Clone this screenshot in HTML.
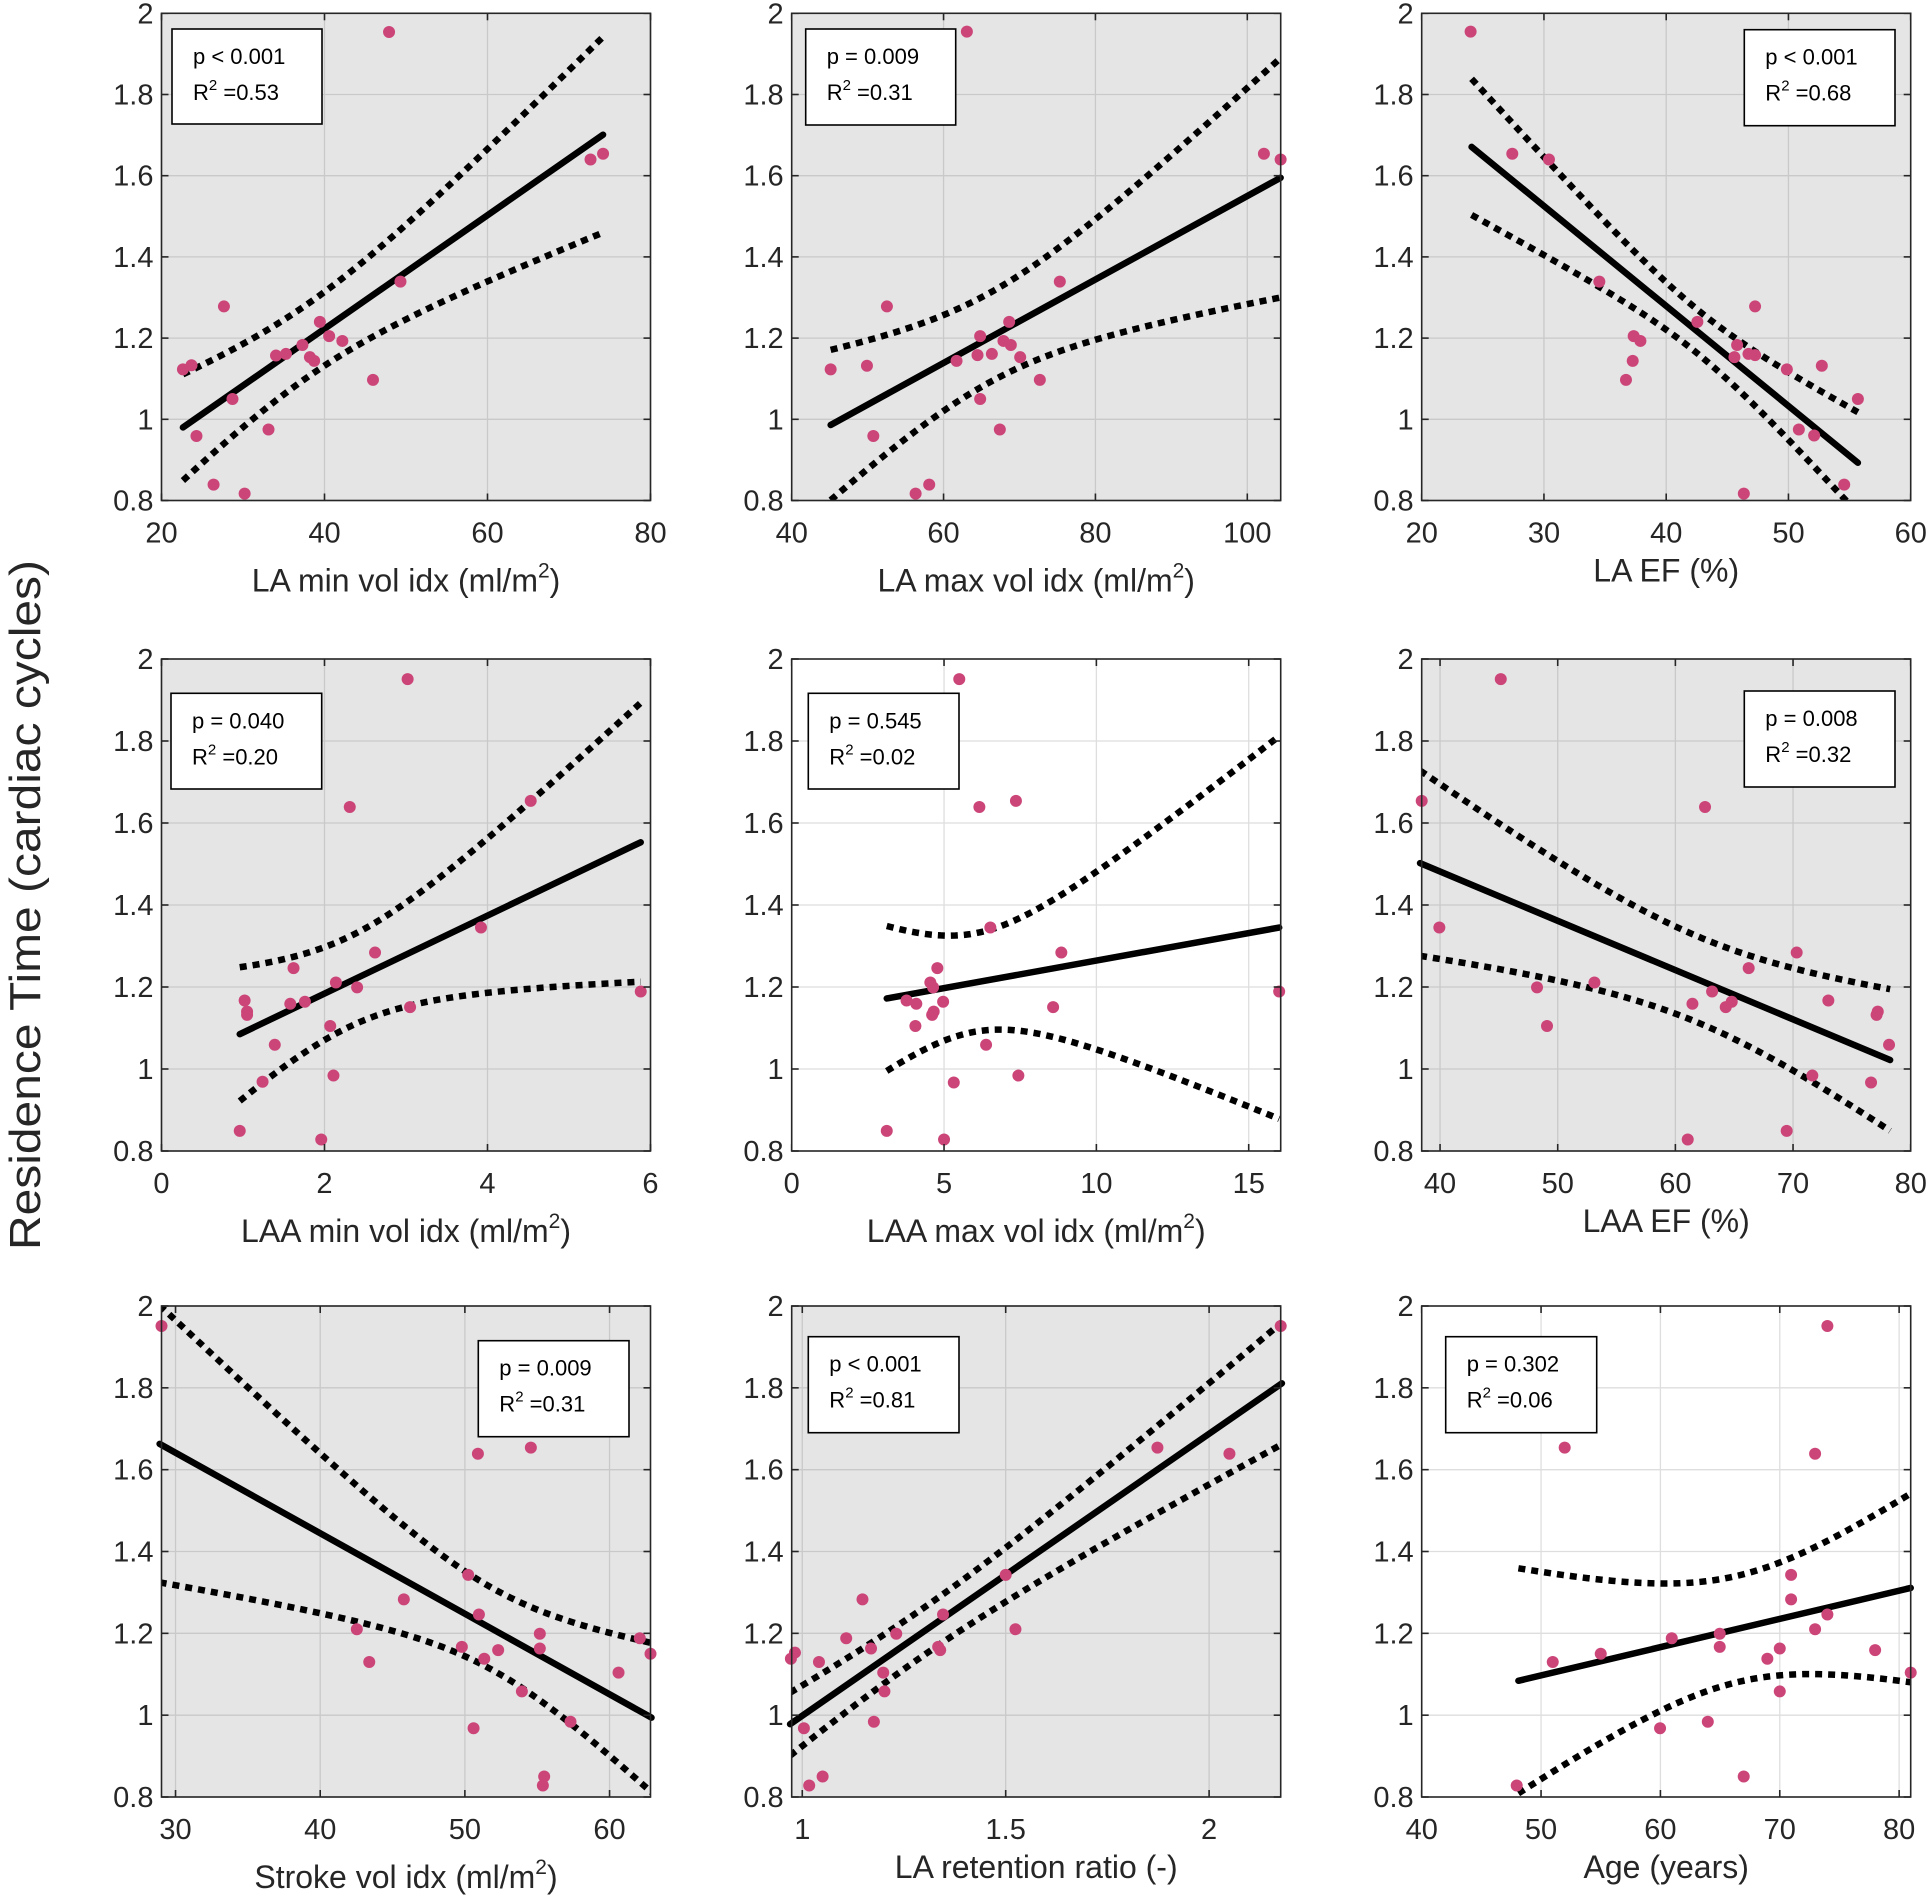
<!DOCTYPE html>
<html><head><meta charset="utf-8">
<style>
html,body{margin:0;padding:0;background:#fff;}
svg{display:block;font-family:"Liberation Sans",Arial,sans-serif;}
</style></head>
<body>
<svg id="fig" width="1930" height="1898" viewBox="0 0 1930 1898" xmlns="http://www.w3.org/2000/svg">
<text transform="translate(40,905) rotate(-90)" text-anchor="middle" font-size="44" fill="#262626" textLength="690" lengthAdjust="spacingAndGlyphs">Residence Time (cardiac cycles)</text>
</svg>
<script>
// ---- data (shared y ticks) ----
const yTicks = [0.8, 1, 1.2, 1.4, 1.6, 1.8, 2];
const yTickLabels = ['0.8', '1', '1.2', '1.4', '1.6', '1.8', '2'];

// Panel 1: LA min vol idx
const laMinX = [22.63,23.68,24.29,26.39,27.66,28.71,30.20,33.13,34.05,35.27,37.29,38.21,38.73,39.43,40.57,42.19,45.95,47.92,49.32,72.64,74.18];
const laMinY = [1.123,1.133,0.959,0.839,1.278,1.050,0.817,0.975,1.157,1.161,1.183,1.153,1.144,1.240,1.205,1.193,1.097,1.954,1.339,1.640,1.654];
const laMinFit = [22.63, 0.980, 74.18, 1.701];
const laMinCI = [38.0, 0.09, 0.00618];
const laMinTicks = [20, 40, 60, 80];

// Panel 2: LA max vol idx
const laMaxX = [63.07,52.54,45.13,49.91,50.75,56.32,58.11,61.71,64.47,64.82,66.36,67.89,68.86,68.64,70.09,72.68,64.82,67.41,75.31,102.19,104.39];
const laMaxY = [1.955,1.278,1.123,1.132,0.959,0.817,0.839,1.144,1.158,1.205,1.161,1.193,1.183,1.240,1.153,1.097,1.050,0.975,1.339,1.654,1.640];
const laMaxFit = [45.13, 0.986, 104.39, 1.595];
const laMaxCI = [66.0, 0.11, 0.00713];
const laMaxTicks = [40, 60, 80, 100];

// Panel 3: LA EF
const laEfX = [24.0,27.41,30.41,34.53,37.34,37.89,37.26,36.71,42.55,45.80,45.58,46.73,47.27,47.27,49.87,52.73,55.68,50.85,52.1,54.56,46.35];
const laEfY = [1.955,1.654,1.640,1.339,1.205,1.193,1.144,1.097,1.240,1.183,1.153,1.161,1.158,1.278,1.123,1.132,1.050,0.975,0.960,0.839,0.817];
const laEfFit = [24.08, 1.671, 55.68, 0.893];
const laEfCI = [42.6, 0.054, 0.00857];
const laEfTicks = [20, 30, 40, 50, 60];

// Panel 4: LAA min vol idx
const laaMinX = [3.02,2.31,4.53,3.92,2.62,1.62,2.14,2.40,1.58,1.76,1.02,1.05,1.05,2.07,3.05,1.39,1.24,2.11,0.96,1.96,5.88];
const laaMinY = [1.951,1.639,1.654,1.345,1.284,1.246,1.211,1.199,1.159,1.164,1.167,1.140,1.132,1.105,1.151,1.059,0.969,0.984,0.849,0.828,1.189];
const laaMinFit = [0.96, 1.085, 5.88, 1.553];
const laaMinCI = [2.3, 0.11, 0.0899];
const laaMinTicks = [0, 2, 4, 6];

// Panel 5: LAA max vol idx
const laaMaxX = [5.50,6.16,7.36,6.52,8.85,4.78,4.55,4.64,3.77,4.09,4.97,4.66,4.61,4.06,8.58,6.38,5.32,7.44,3.12,5.00,16.0];
const laaMaxY = [1.951,1.639,1.654,1.345,1.284,1.246,1.211,1.199,1.167,1.159,1.164,1.140,1.132,1.105,1.151,1.059,0.967,0.984,0.849,0.828,1.189];
const laaMaxFit = [3.12, 1.172, 16.0, 1.345];
const laaMaxCI = [6.0, 0.12, 0.0451];
const laaMaxTicks = [0, 5, 10, 15];

// Panel 6: LAA EF
const laaEfX = [45.16,38.44,62.52,39.94,70.31,66.23,53.12,48.24,63.12,61.45,64.79,64.28,73.0,77.2,77.1,49.09,78.16,71.64,76.63,69.46,61.05];
const laaEfY = [1.951,1.654,1.639,1.345,1.284,1.246,1.211,1.199,1.189,1.159,1.164,1.151,1.167,1.140,1.132,1.105,1.059,0.984,0.967,0.849,0.828];
const laaEfFit = [38.3, 1.502, 78.25, 1.022];
const laaEfCI = [62, 0.105, 0.00844];
const laaEfTicks = [40, 50, 60, 70, 80];

// Panel 7: Stroke vol idx
const svX = [29.03,50.90,54.56,50.23,45.78,50.97,42.53,55.18,49.79,55.18,52.30,51.34,43.39,62.09,62.83,60.62,53.94,57.30,50.60,55.48,55.39];
const svY = [1.951,1.639,1.654,1.343,1.283,1.246,1.210,1.199,1.167,1.163,1.159,1.138,1.130,1.188,1.150,1.104,1.058,0.984,0.968,0.850,0.828];
const svFit = [28.9, 1.663, 62.9, 0.994];
const svCI = [52, 0.1, 0.014];
const svTicks = [30, 40, 50, 60];

// Panel 8: LA retention ratio
const rrX = [2.176,1.873,2.050,1.500,1.148,1.346,1.524,1.108,1.231,0.982,0.972,1.169,1.334,1.339,1.041,1.199,1.202,1.004,1.176,1.050,1.017];
const rrY = [1.951,1.654,1.639,1.343,1.283,1.246,1.210,1.188,1.199,1.153,1.138,1.163,1.167,1.159,1.130,1.104,1.058,0.968,0.984,0.850,0.828];
const rrFit = [0.970, 0.978, 2.179, 1.811];
const rrCI = [1.296, 0.058, 0.1554];
const rrTicks = [1, 1.5, 2];
const rrTickLabels = ['1', '1.5', '2'];

// Panel 9: Age
const ageX = [73.99,51.98,72.96,70.95,70.95,73.99,72.96,64.97,60.95,64.97,70.0,77.99,55.0,50.98,68.96,80.97,70.0,63.97,59.97,66.98,47.96];
const ageY = [1.951,1.654,1.639,1.343,1.283,1.246,1.210,1.199,1.188,1.167,1.163,1.159,1.150,1.130,1.138,1.104,1.058,0.984,0.968,0.850,0.828];
const ageFit = [48.1, 1.084, 80.97, 1.311];
const ageCI = [66.5, 0.13, 0.01317];
const ageTicks = [40, 50, 60, 70, 80];

// ---- layout ----
const ROWS = [[13.3, 500.5], [659, 1151], [1306, 1797]];
const COLS = [[161.5, 650.5], [791.7, 1280.7], [1421.7, 1910.7]];
const NS = 'http://www.w3.org/2000/svg';
const svg = document.getElementById('fig');

const panels = [
 {id:'la-min', r:0,c:0, dom:[20,80], xs:laMinX, ys:laMinY, fit:laMinFit, ci:laMinCI, ticks:laMinTicks, gray:true, p:'p < 0.001', r2:'0.53', box:[172,29,150,95], title:'LA min vol idx (ml/m', sup:true},
 {id:'la-max', r:0,c:1, dom:[40,104.4], xs:laMaxX, ys:laMaxY, fit:laMaxFit, ci:laMaxCI, ticks:laMaxTicks, gray:true, p:'p = 0.009', r2:'0.31', box:[805.7,29,150,96], title:'LA max vol idx (ml/m', sup:true},
 {id:'la-ef', r:0,c:2, dom:[20,60], xs:laEfX, ys:laEfY, fit:laEfFit, ci:laEfCI, ticks:laEfTicks, gray:true, p:'p < 0.001', r2:'0.68', box:[1744.3,29.7,150.7,96], title:'LA EF (%)', sup:false},
 {id:'laa-min', r:1,c:0, dom:[0,6], xs:laaMinX, ys:laaMinY, fit:laaMinFit, ci:laaMinCI, ticks:laaMinTicks, gray:true, p:'p = 0.040', r2:'0.20', box:[171,693.3,150.7,95.7], title:'LAA min vol idx (ml/m', sup:true},
 {id:'laa-max', r:1,c:1, dom:[0,16.05], xs:laaMaxX, ys:laaMaxY, fit:laaMaxFit, ci:laaMaxCI, ticks:laaMaxTicks, gray:false, p:'p = 0.545', r2:'0.02', box:[808.3,693.3,150.7,95.7], title:'LAA max vol idx (ml/m', sup:true},
 {id:'laa-ef', r:1,c:2, dom:[38.44,80.0], xs:laaEfX, ys:laaEfY, fit:laaEfFit, ci:laaEfCI, ticks:laaEfTicks, gray:true, p:'p = 0.008', r2:'0.32', box:[1744.3,691,150.7,96], title:'LAA EF (%)', sup:false},
 {id:'stroke-vol', r:2,c:0, dom:[29.03,62.83], xs:svX, ys:svY, fit:svFit, ci:svCI, ticks:svTicks, gray:true, p:'p = 0.009', r2:'0.31', box:[478.3,1340.7,150.7,96], title:'Stroke vol idx (ml/m', sup:true},
 {id:'la-retention', r:2,c:1, dom:[0.974,2.176], xs:rrX, ys:rrY, fit:rrFit, ci:rrCI, ticks:rrTicks, tickLabels:rrTickLabels, gray:true, p:'p < 0.001', r2:'0.81', box:[808.3,1336.7,150.7,96], title:'LA retention ratio (-)', sup:false},
 {id:'age', r:2,c:2, dom:[40.0,80.97], xs:ageX, ys:ageY, fit:ageFit, ci:ageCI, ticks:ageTicks, gray:false, p:'p = 0.302', r2:'0.06', box:[1445.7,1336.7,151,96], title:'Age (years)', sup:false}
];

function mk(tag, attrs, parent){
  const e = document.createElementNS(NS, tag);
  for (const k in attrs) e.setAttribute(k, attrs[k]);
  (parent || svg).appendChild(e);
  return e;
}

panels.forEach(function(P){
  const [L, R] = COLS[P.c];
  const [T, B] = ROWS[P.r];
  const sx = v => L + (v - P.dom[0]) / (P.dom[1] - P.dom[0]) * (R - L);
  const sy = v => B - (v - 0.8) / 1.2 * (B - T);

  const g = mk('g', {});
  
  

  const bg = mk('rect', {x:L, y:T, width:R-L, height:B-T, fill: P.gray ? '#e5e5e5' : '#ffffff'}, g);
  
  

  const gridCol = P.gray ? '#c9c9c9' : '#dedede';
  P.ticks.forEach(function(t){
    const x = sx(t);
    const gl = mk('line', {x1:x, x2:x, y1:T, y2:B, stroke:gridCol, 'stroke-width':1.3}, g);
    
    
  });
  yTicks.forEach(function(t){
    const y = sy(t);
    const gl = mk('line', {x1:L, x2:R, y1:y, y2:y, stroke:gridCol, 'stroke-width':1.3}, g);
    
    
  });

  const cid = 'clip-' + P.id;
  const cp = mk('clipPath', {id:cid}, g);
  mk('rect', {x:L, y:T, width:R-L, height:B-T}, cp);

  const [x0, y0, x1, y1] = P.fit;
  const slope = (y1 - y0) / (x1 - x0);
  const [xm, a, b] = P.ci;
  [1, -1].forEach(function(sgn){
    let d = '';
    const N = 80;
    for (let i = 0; i <= N; i++){
      const xv = x0 + (x1 - x0) * i / N;
      const yl = y0 + slope * (xv - x0);
      const hw = Math.sqrt(a*a + b*b*(xv - xm)*(xv - xm));
      d += (i ? 'L' : 'M') + sx(xv).toFixed(2) + ',' + sy(yl + sgn*hw).toFixed(2);
    }
    const ci = mk('path', {d:d, fill:'none', stroke:'#000', 'stroke-width':6.5, 'stroke-dasharray':'7 6', 'clip-path':'url(#'+cid+')'}, g);
    
    
  });

  const fl = mk('line', {x1:sx(x0), y1:sy(y0), x2:sx(x1), y2:sy(y1), stroke:'#000', 'stroke-width':6.5, 'stroke-linecap':'round'}, g);
  
  

  P.xs.forEach(function(xv, i){
    const c = mk('circle', {cx:sx(xv), cy:sy(P.ys[i]), r:6, fill:'#cc4578'}, g);
    
    
  });

  const fr = mk('rect', {x:L, y:T, width:R-L, height:B-T, fill:'none', stroke:'#262626', 'stroke-width':1.6}, g);
  
  

  P.ticks.forEach(function(t, i){
    const x = sx(t);
    mk('line', {x1:x, x2:x, y1:B, y2:B-7, stroke:'#262626', 'stroke-width':1.6}, g);
    mk('line', {x1:x, x2:x, y1:T, y2:T+7, stroke:'#262626', 'stroke-width':1.6}, g);
    const tl = mk('text', {x:x, y:B+42, 'text-anchor':'middle', 'font-size':29, fill:'#262626'}, g);
    tl.textContent = P.tickLabels ? P.tickLabels[i] : String(t);
    
    
  });
  yTicks.forEach(function(t, i){
    const y = sy(t);
    mk('line', {x1:L, x2:L+7, y1:y, y2:y, stroke:'#262626', 'stroke-width':1.6}, g);
    mk('line', {x1:R, x2:R-7, y1:y, y2:y, stroke:'#262626', 'stroke-width':1.6}, g);
    const tl = mk('text', {x:L-8, y:y+10, 'text-anchor':'end', 'font-size':29, fill:'#262626'}, g);
    tl.textContent = yTickLabels[i];
    
    
  });

  const xt = mk('text', {x:(L+R)/2, y: B + (P.sup ? 91 : 81), 'text-anchor':'middle', 'font-size':32, fill:'#262626'}, g);
  
  
  if (P.sup){
    const t1 = mk('tspan', {}, xt); t1.textContent = P.title;
    const t2 = mk('tspan', {dy:-14, 'font-size':21}, xt); t2.textContent = '2';
    const t3 = mk('tspan', {dy:14}, xt); t3.textContent = ')';
  } else {
    xt.textContent = P.title;
  }

  const [bx, by, bw, bh] = P.box;
  const sb = mk('g', {}, g);
  
  
  mk('rect', {x:bx, y:by, width:bw, height:bh, fill:'#fff', stroke:'#000', 'stroke-width':1.6}, sb);
  const pt = mk('text', {x:bx+21, y:by+35, 'font-size':22, fill:'#000'}, sb);
  pt.textContent = P.p;
  
  
  const rt = mk('text', {x:bx+21, y:by+71, 'font-size':22, fill:'#000'}, sb);
  
  
  const r1 = mk('tspan', {}, rt); r1.textContent = 'R';
  const r2 = mk('tspan', {dy:-10, 'font-size':15}, rt); r2.textContent = '2';
  const r3 = mk('tspan', {dy:10}, rt); r3.textContent = ' =' + P.r2;
});
</script>
</body></html>
